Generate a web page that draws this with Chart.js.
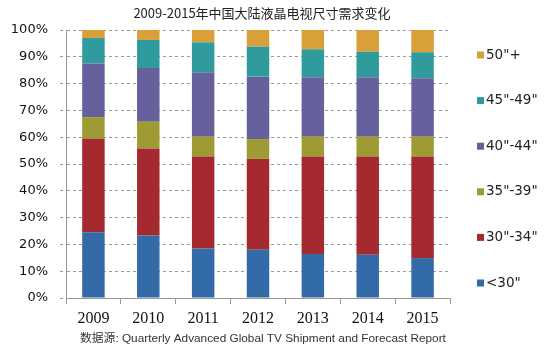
<!DOCTYPE html>
<html>
<head>
<meta charset="utf-8">
<script src="https://cdn.jsdelivr.net/npm/chart.js@4/dist/chart.umd.min.js"></script>
<style>
html,body{margin:0;padding:0;background:#fff;}
#wrap{width:550px;height:355px;position:relative;}
</style>
</head>
<body>
<div id="wrap"><canvas id="c" width="550" height="355"></canvas></div>
<script>
const years = ['2009','2010','2011','2012','2013','2014','2015'];
const under30 = [24.5, 23.3, 18.5, 18.0, 16.4, 16.1, 14.9];
const s30_34  = [35.0, 32.5, 34.3, 33.9, 36.4, 36.7, 37.9];
const s35_39  = [8.0, 10.0, 7.4, 7.4, 7.4, 7.4, 7.4];
const s40_44  = [20.0, 20.0, 23.9, 23.3, 22.2, 22.2, 21.8];
const s45_49  = [9.5, 10.5, 11.3, 11.2, 10.4, 9.5, 9.7];
const s50plus = [3.0, 3.7, 4.6, 6.2, 7.2, 8.1, 8.3];
const seriesNames = ['<30"', '30"-34"', '35"-39"', '40"-44"', '45"-49"', '50"+'];
const yTicks = [0,10,20,30,40,50,60,70,80,90,100];
const titleText = '2009-2015年中国大陆液晶电视尺寸需求变化';
const sourceText = '数据源: Quarterly Advanced Global TV Shipment and Forecast Report';

const colors = ['#336ba8', '#a52a2f', '#9e9b35', '#66609d', '#2f9b9c', '#d9a03a'];
const seriesData = [under30, s30_34, s35_39, s40_44, s45_49, s50plus];

const datasets = seriesData.map((d, i) => ({
  label: seriesNames[i],
  data: d,
  backgroundColor: colors[i],
  borderWidth: 0,
  barPercentage: 0.41,
  categoryPercentage: 1.0
}));

const extras = {
  id: 'extras',
  afterDraw(chart) {
    const ctx = chart.ctx;
    ctx.save();
    // title
    ctx.font = '13px "Noto Sans CJK SC"';
    ctx.fillStyle = '#222';
    ctx.textAlign = 'center';
    ctx.textBaseline = 'middle';
    ctx.fillText(titleText, 262, 13);
    // legend
    const items = chart.data.datasets.map((ds, i) => ({label: ds.label, color: ds.backgroundColor})).reverse();
    ctx.font = '13.5px "DejaVu Sans"';
    ctx.textBaseline = 'middle';
    ctx.textAlign = 'left';
    const y0 = 55, step = 45.6;
    items.forEach((it, i) => {
      const y = y0 + i * step;
      ctx.fillStyle = it.color;
      ctx.fillRect(477, y - 3.5, 7, 7);
      ctx.fillStyle = '#222';
      ctx.fillText(it.label, 486, y);
    });
    // source
    ctx.font = '11.8px "Liberation Sans", "Noto Sans CJK SC"';
    ctx.fillStyle = '#333';
    ctx.fillText(sourceText, 80, 339);
    ctx.restore();
  }
};

new Chart(document.getElementById('c'), {
  type: 'bar',
  data: { labels: years, datasets },
  options: {
    responsive: false,
    animation: false,
    layout: { padding: { left: 0, right: 100, top: 30, bottom: 27 } },
    plugins: {
      legend: { display: false },
      tooltip: { enabled: false },
      title: { display: false }
    },
    scales: {
      x: {
        stacked: true,
        grid: { display: true, drawOnChartArea: false, drawTicks: true, tickLength: 6, color: '#999', offset: true },
        border: { display: true, color: '#999' },
        ticks: { color: '#111', font: { family: '"Liberation Serif"', size: 16 }, padding: 5 },
        afterFit(scale) { scale.height = 30; }
      },
      y: {
        stacked: true,
        min: 0, max: 100,
        afterBuildTicks(scale) { scale.ticks = yTicks.map(v => ({ value: v })); },
        grid: { color: '#999', lineWidth: 1, tickLength: 6, drawTicks: true, tickBorderDash: [3, 3] },
        border: { display: true, color: '#999', dash: [3, 3] },
        ticks: {
          color: '#111',
          font: { family: '"DejaVu Sans"', size: 13 },
          padding: 12,
          callback: v => v + '%'
        },
        afterFit(scale) { scale.width = 66; }
      }
    }
  },
  plugins: [extras]
});
</script>
</body>
</html>
